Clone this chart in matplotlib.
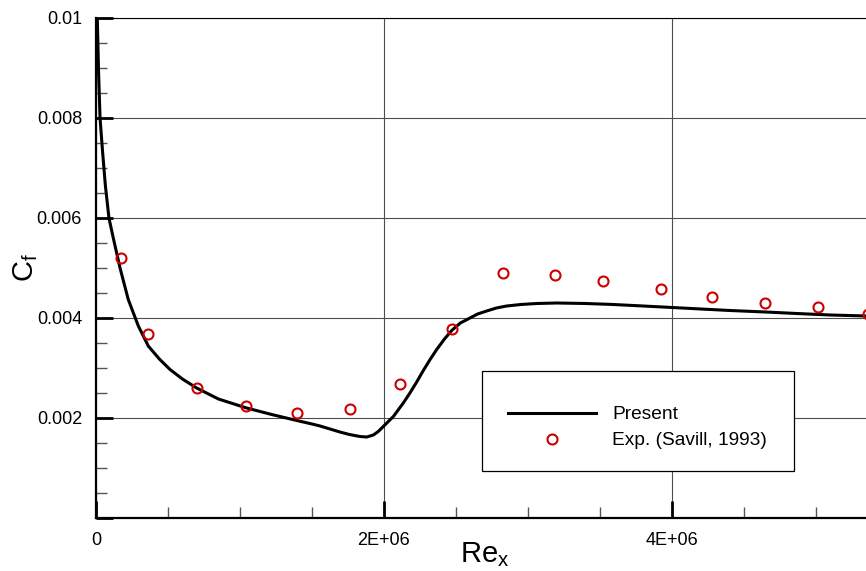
"""Skin friction coefficient along the plate: computation vs. experiment."""

import matplotlib

matplotlib.use("Agg")

import matplotlib.pyplot as plt
from matplotlib.patches import Rectangle
from matplotlib.ticker import FuncFormatter, MultipleLocator

plt.rcParams["font.family"] = ["Liberation Sans", "DejaVu Sans"]
plt.rcParams["mathtext.default"] = "regular"

LINE = "#000000"
EXP = "#CC0000"
GRID = "#4D4D4D"

# computed Cf distribution
re_present = [
    3e3, 9e3, 18e3, 28e3, 45e3, 65e3, 90e3, 105e3, 120e3, 167e3, 224e3,
    294e3, 363e3, 440e3, 514e3, 600e3, 699e3, 850e3, 1.046e6, 1.22e6,
    1.394e6, 1.5e6, 1.556e6, 1.602e6, 1.694e6, 1.76e6, 1.833e6, 1.88e6,
    1.926e6, 1.96e6, 1.995e6, 2.065e6, 2.134e6, 2.18e6, 2.227e6, 2.273e6,
    2.32e6, 2.366e6, 2.42e6, 2.47e6, 2.53e6, 2.597e6, 2.65e6, 2.713e6,
    2.78e6, 2.852e6, 2.95e6, 3.06e6, 3.2e6, 3.4e6, 3.593e6, 3.8e6,
    4.002e6, 4.2e6, 4.403e6, 4.65e6, 4.866e6, 5.1e6, 5.35e6, 5.45e6,
]
cf_present = [
    0.0135, 0.0100, 0.0089, 0.0080, 0.00735, 0.00665, 0.0060, 0.0058,
    0.0056, 0.00500, 0.00437, 0.00384, 0.00344, 0.00318, 0.00297, 0.00278,
    0.0026, 0.00238, 0.0022, 0.00207, 0.00195, 0.00188, 0.00184, 0.0018,
    0.00172, 0.00167, 0.00163, 0.00162, 0.00166, 0.00173, 0.00183, 0.00203,
    0.0023, 0.0025, 0.00272, 0.00295, 0.00317, 0.00337, 0.00358, 0.00375,
    0.0039, 0.004, 0.00408, 0.00414, 0.0042, 0.00424, 0.00427, 0.00429,
    0.0043, 0.00429, 0.00427, 0.00424, 0.00421, 0.00418, 0.00415, 0.00412,
    0.00409, 0.00406, 0.00404, 0.00403,
]

# Savill (1993) measurements
re_exp = [
    0.172e6, 0.359e6, 0.703e6, 1.04e6, 1.396e6, 1.766e6, 2.111e6, 2.474e6,
    2.829e6, 3.185e6, 3.518e6, 3.921e6, 4.278e6, 4.648e6, 5.016e6, 5.36e6,
]
cf_exp = [
    0.0052, 0.00369, 0.00261, 0.00225, 0.0021, 0.00219, 0.00268, 0.00379,
    0.0049, 0.00487, 0.00474, 0.00459, 0.00443, 0.00431, 0.00422, 0.00409,
]


def _x_tick(value, _pos):
    if value == 0:
        return "0"
    return f"{value:.0E}"


def _y_tick(value, _pos):
    if abs(value) < 1e-12:
        return ""
    return f"{value:g}"


fig = plt.figure(figsize=(8.66, 5.71), dpi=100)
ax = fig.add_axes([96 / 866, 53 / 571, 777.6 / 866, 500 / 571])

ax.plot(re_present, cf_present, color=LINE, linewidth=2.2, label="Present", zorder=3)
ax.plot(re_exp, cf_exp, linestyle="none", marker="o", markersize=7.2,
        markerfacecolor="none", markeredgecolor=EXP, markeredgewidth=1.5,
        label="Exp. (Savill, 1993)", zorder=4)

ax.set_xlim(0, 5.4e6)
ax.set_ylim(0, 0.01)
ax.xaxis.set_major_locator(MultipleLocator(2e6))
ax.xaxis.set_minor_locator(MultipleLocator(0.5e6))
ax.yaxis.set_major_locator(MultipleLocator(0.002))
ax.yaxis.set_minor_locator(MultipleLocator(0.0005))
ax.xaxis.set_major_formatter(FuncFormatter(_x_tick))
ax.yaxis.set_major_formatter(FuncFormatter(_y_tick))

ax.tick_params(which="major", direction="in", length=12, width=2, pad=10,
               labelsize=13, color="black")
ax.tick_params(which="minor", direction="in", length=8, width=1, color="#555555")
ax.grid(True, which="major", color=GRID, linewidth=0.8)

ax.spines["right"].set_visible(False)
ax.spines["top"].set_linewidth(0.8)
ax.spines["left"].set_linewidth(1.6)
ax.spines["bottom"].set_linewidth(1.6)

ax.set_xlabel("Re$_x$", fontsize=21)
ax.xaxis.set_label_coords(0.5, -0.044)
ax.set_ylabel("C$_f$", fontsize=21)
ax.yaxis.set_label_coords(-0.072, 0.5)

# white legend frame, covering the grid behind it
frame = Rectangle((0.4964, 0.094), 0.4012, 0.200, transform=ax.transAxes,
                  facecolor="white", edgecolor="black", linewidth=0.9,
                  zorder=5, clip_on=False)
ax.add_patch(frame)

leg = ax.legend(loc="upper left", bbox_to_anchor=(508 / 866, 1 - 406 / 571),
                bbox_transform=fig.transFigure, frameon=False, fontsize=13.8,
                handlelength=4.6, handletextpad=0.85, labelspacing=0.45,
                borderpad=0, borderaxespad=0)
leg.set_zorder(6)

fig.savefig("out.png", dpi=100)
